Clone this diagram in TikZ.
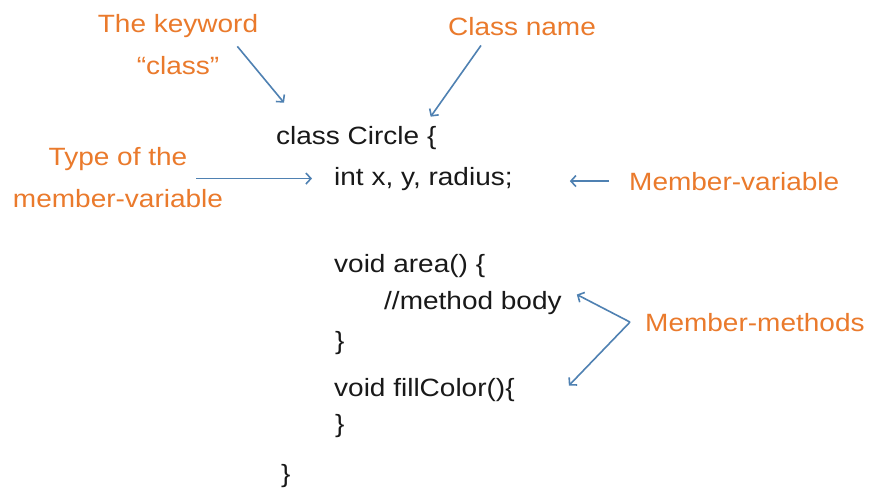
\documentclass[tikz,border=0pt]{standalone}
\usepackage{fontspec}
\setmainfont[FakeStretch=1.12]{Liberation Sans}
\usetikzlibrary{arrows.meta}
\definecolor{labelorange}{RGB}{234,122,44}
\definecolor{arrowblue}{RGB}{79,129,178}
\definecolor{codegray}{RGB}{25,25,25}

\begin{document}
\begin{tikzpicture}[x=1pt,y=-1pt,
  code/.style={anchor=base west,inner sep=1pt,text=codegray,font=\fontsize{25}{41}\selectfont},
  note/.style={text=labelorange,align=center,inner sep=1pt,font=\fontsize{25}{42}\selectfont},
  pointer/.style={draw=arrowblue,line width=1.6pt,-{Straight Barb[length=5pt,width=11pt]}}]
  \useasboundingbox[fill=white] (0,0) rectangle (871,488);

  % the class, line by line
  \node[code] (cls) at (275,144) {class Circle \{};
  \node[code] (vars) at (333,185) {int x, y, radius;};
  \node[code] (area) at (333,272) {void area() \{};
  \node[code] (body) at (383,309) {//method body};
  \node[code] (areaend) at (334,349) {\}};
  \node[code] (fill) at (333,396) {void fillColor()\{};
  \node[code] (fillend) at (334,432) {\}};
  \node[code] (clsend) at (280,482) {\}};

  % labels
  \node[note,anchor=north] (kw) at (178,13) {The keyword\\``class''};
  \node[note,anchor=base] (cname) at (522,35) {Class name};
  \node[note,anchor=north] (typelbl) at (118,146) {Type of the\\member-variable};
  \node[note,anchor=base west] (varlbl) at (628,190) {Member-variable};
  \node[note,anchor=base west] (methlbl) at (644,331) {Member-methods};

  % pointers
  \draw[pointer] ([xshift=-22pt,yshift=-2pt]kw.east) -- ([xshift=9pt,yshift=22pt]cls.north west);
  \draw[pointer] ([xshift=-41pt,yshift=-9pt]cname.south) -- ([xshift=-7pt,yshift=8pt]cls.north east);
  \draw[pointer,shorten <=-28pt,shorten >=21pt] (vars.west -| typelbl.east) -- (vars.west);
  \draw[pointer,shorten <=19pt,shorten >=56pt] (varlbl.west) -- (varlbl.west -| vars.east);
  \draw[pointer] ([xshift=-14pt]methlbl.west) -- ([xshift=14pt,yshift=8pt]body.east);
  \draw[pointer] ([xshift=-14pt]methlbl.west) -- ([xshift=53pt,yshift=4pt]fill.east);
\end{tikzpicture}
\end{document}
